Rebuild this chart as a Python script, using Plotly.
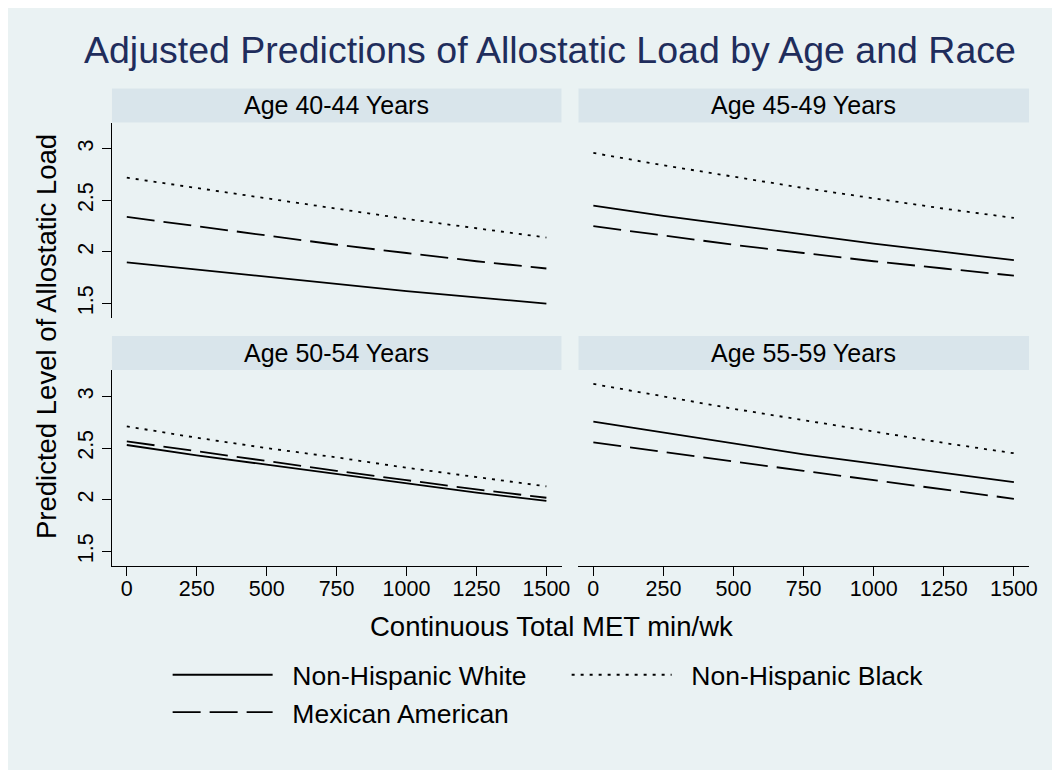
import plotly.graph_objects as go

# ---------------- data ----------------
met = [0, 250, 500, 750, 1000, 1250, 1500]
x_ticks = [0, 250, 500, 750, 1000, 1250, 1500]
y_ticks = [1.5, 2, 2.5, 3]
age_groups = ["Age 40-44 Years", "Age 45-49 Years", "Age 50-54 Years", "Age 55-59 Years"]
races = ["Non-Hispanic White", "Non-Hispanic Black", "Mexican American"]

white_40_44 = [1.90, 1.83, 1.76, 1.69, 1.62, 1.56, 1.50]
black_40_44 = [2.72, 2.62, 2.52, 2.42, 2.32, 2.23, 2.14]
mex_40_44 = [2.34, 2.25, 2.16, 2.07, 1.99, 1.91, 1.84]

white_45_49 = [2.45, 2.35, 2.26, 2.17, 2.08, 2.00, 1.92]
black_45_49 = [2.96, 2.84, 2.73, 2.62, 2.52, 2.42, 2.33]
mex_45_49 = [2.25, 2.16, 2.07, 1.99, 1.91, 1.84, 1.77]

white_50_54 = [2.53, 2.43, 2.34, 2.25, 2.16, 2.07, 1.99]
black_50_54 = [2.71, 2.60, 2.50, 2.41, 2.31, 2.22, 2.13]
mex_50_54 = [2.565, 2.47, 2.37, 2.28, 2.19, 2.10, 2.02]

white_55_59 = [2.755, 2.65, 2.54, 2.44, 2.35, 2.26, 2.17]
black_55_59 = [3.12, 3.00, 2.88, 2.77, 2.66, 2.55, 2.45]
mex_55_59 = [2.555, 2.46, 2.37, 2.28, 2.19, 2.10, 2.01]

panels = [
    (white_40_44, black_40_44, mex_40_44),
    (white_45_49, black_45_49, mex_45_49),
    (white_50_54, black_50_54, mex_50_54),
    (white_55_59, black_55_59, mex_55_59),
]

# ---------------- style ----------------
W, H = 1060, 770
OFF = 8  # page body margin
SX = (W + OFF) / W  # horizontal fit of the page into the window
FONT = "Liberation Sans, Arial, Helvetica, sans-serif"
BG = "#EAF2F3"
STRIP = "#D9E5EB"
TITLE_C = "#1F2D5C"
dashes = ["solid", "3px,6px", "28px,9px"]

def fx(s):
    return (s * SX - OFF) / W

def fy(s):
    return 1 - (s - OFF) / H

left_dom = [fx(112), fx(562)]
right_dom = [fx(579), fx(1030)]
top_dom = [fy(318), fy(122.5)]
bot_dom = [fy(566), fy(370)]
strip_h = 34

doms = [(left_dom, top_dom), (right_dom, top_dom), (left_dom, bot_dom), (right_dom, bot_dom)]

fig = go.Figure()

for i, (vals, (xd, yd)) in enumerate(zip(panels, doms)):
    suffix = "" if i == 0 else str(i + 1)
    for j, (race, ys) in enumerate(zip(races, vals)):
        fig.add_trace(go.Scatter(
            x=met, y=ys, mode="lines", name="\u00a0\u00a0" + race,
            line=dict(color="black", width=1.8, dash=dashes[j]),
            xaxis="x" + suffix, yaxis="y" + suffix,
            showlegend=(i == 0),
            hoverinfo="skip",
        ))

xr = [-53, 1554]
yr = [1.36, 3.255]
layout = dict(
    width=W, height=H,
    margin=dict(l=0, r=0, t=0, b=0),
    paper_bgcolor=BG, plot_bgcolor=BG,
    font=dict(family=FONT, color="black", size=21),
    showlegend=True,
)
for i, (xd, yd) in enumerate(doms):
    suffix = "" if i == 0 else str(i + 1)
    bottom = i >= 2
    leftp = i % 2 == 0
    layout["xaxis" + suffix] = dict(
        domain=xd, range=xr, anchor="y" + suffix,
        tickvals=x_ticks, ticktext=[str(v) for v in x_ticks],
        showticklabels=bottom, ticks="outside" if bottom else "",
        ticklen=9, tickwidth=1.3, tickcolor="black",
        showline=bottom, linecolor="black", linewidth=1.3,
        showgrid=False, zeroline=False, fixedrange=True,
        tickfont=dict(size=21.5),
    )
    layout["yaxis" + suffix] = dict(
        domain=yd, range=yr, anchor="x" + suffix,
        tickvals=y_ticks, ticktext=["1.5", "2", "2.5", "3"],
        showticklabels=leftp, ticks="outside" if leftp else "",
        ticklen=9, tickwidth=1.3, tickcolor="black", tickangle=-90,
        showline=leftp, linecolor="black", linewidth=1.3,
        showgrid=False, zeroline=False, fixedrange=True,
        tickfont=dict(size=21.5),
    )

shapes = []
annotations = []
for i, (xd, yd) in enumerate(doms):
    suffix = "" if i == 0 else str(i + 1)
    ydh = (yd[1] - yd[0]) * H
    shapes.append(dict(type="rect", xref="x" + suffix + " domain", yref="y" + suffix + " domain",
                       x0=0, x1=1, y0=1, y1=1 + strip_h / ydh,
                       fillcolor=STRIP, line=dict(width=0), layer="below"))
    annotations.append(dict(text=age_groups[i], xref="x" + suffix + " domain", yref="y" + suffix + " domain",
                            x=0.5, y=1 + strip_h / 2 / ydh, xanchor="center", yanchor="middle",
                            showarrow=False, font=dict(size=25, color="black")))

annotations.append(dict(text="Adjusted Predictions of Allostatic Load by Age and Race",
                        xref="paper", yref="paper", x=fx(550), y=fy(50),
                        xanchor="center", yanchor="middle", showarrow=False,
                        font=dict(size=37.5, color=TITLE_C)))
annotations.append(dict(text="Continuous Total MET min/wk", xref="paper", yref="paper",
                        x=fx(552), y=fy(626), xanchor="center", yanchor="middle",
                        showarrow=False, font=dict(size=27.5, color="black")))
annotations.append(dict(text="Predicted Level of Allostatic Load", xref="paper", yref="paper",
                        x=fx(46), y=fy(337), xanchor="center", yanchor="middle", textangle=-90,
                        showarrow=False, font=dict(size=27.5, color="black")))

layout["shapes"] = shapes
layout["annotations"] = annotations
layout["legend"] = dict(
    orientation="h", x=161 / W, y=1 - 643 / H, xanchor="left", yanchor="top",
    entrywidth=284, entrywidthmode="pixels", itemwidth=100,
    font=dict(size=26.5, color="black"), bgcolor="rgba(0,0,0,0)",
    traceorder="normal", itemclick=False, itemdoubleclick=False,
)

fig.update_layout(**layout)
try:
    fig.update_xaxes(ticklabelstandoff=-6)
except Exception:
    pass
fig.write_html("out.html")
